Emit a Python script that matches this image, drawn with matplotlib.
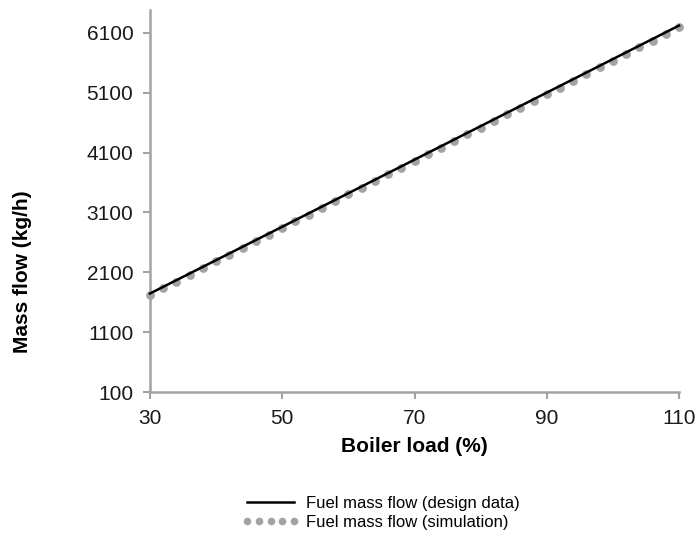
import numpy as np
import matplotlib
matplotlib.use("Agg")
import matplotlib.pyplot as plt

plt.rcParams['font.family'] = ['Liberation Sans', 'DejaVu Sans']

# simulation points (every 2 % load)
load_sim = list(range(30, 111, 2))
flow_sim = [1720, 1830, 1945, 2055, 2170, 2280, 2390, 2505, 2615, 2725,
            2840, 2950, 3060, 3175, 3285, 3400, 3510, 3620, 3735, 3845,
            3955, 4070, 4180, 4290, 4405, 4515, 4630, 4740, 4850, 4965,
            5075, 5185, 5300, 5410, 5525, 5635, 5745, 5860, 5970, 6080,
            6195]

# design data
load_design = [30, 50, 70, 90, 110]
flow_design = [1745, 2860, 3980, 5100, 6220]

x_ticks = [30, 50, 70, 90, 110]
y_ticks = [100, 1100, 2100, 3100, 4100, 5100, 6100]

grey = '#a3a3a3'

fig = plt.figure(figsize=(6.96, 5.39), dpi=100)
ax = fig.add_axes([150 / 696, 1 - 392 / 539, 529 / 696, 382 / 539])

ln1, = ax.plot(load_design, flow_design, color='black', lw=1.8,
               label='Fuel mass flow (design data)', zorder=3, clip_on=False)
ln2, = ax.plot(load_sim, flow_sim, 'o', color=grey, ms=6.3, mec='none',
               label='Fuel mass flow (simulation)', zorder=2, clip_on=False)

ax.set_xlim(30, 110)
ax.set_ylim(100, 6480)
ax.set_xticks(x_ticks)
ax.set_yticks(y_ticks)
ax.tick_params(axis='both', labelsize=15, direction='out', length=5,
               width=1.5, color=grey, pad=7, labelcolor='#1a1a1a')

for s in ['top', 'right']:
    ax.spines[s].set_visible(False)
for s in ['left', 'bottom']:
    ax.spines[s].set_color(grey)
    ax.spines[s].set_linewidth(1.8)

ax.set_xlabel('Boiler load (%)', fontsize=15, fontweight='bold', labelpad=7)
fig.text(22 / 696, 1 - 272 / 539, 'Mass flow (kg/h)', fontsize=15,
         fontweight='bold', rotation=90, ha='center', va='center')

leg = fig.legend(handles=[ln1, ln2], loc='center', bbox_to_anchor=(381 / 696, 1 - 513 / 539),
                 frameon=False, fontsize=12, numpoints=5, handlelength=3.4,
                 handletextpad=0.4, labelspacing=0.25, borderpad=0)
leg.legend_handles[1].set_markersize(5.5)

fig.savefig('out.png', dpi=100)
